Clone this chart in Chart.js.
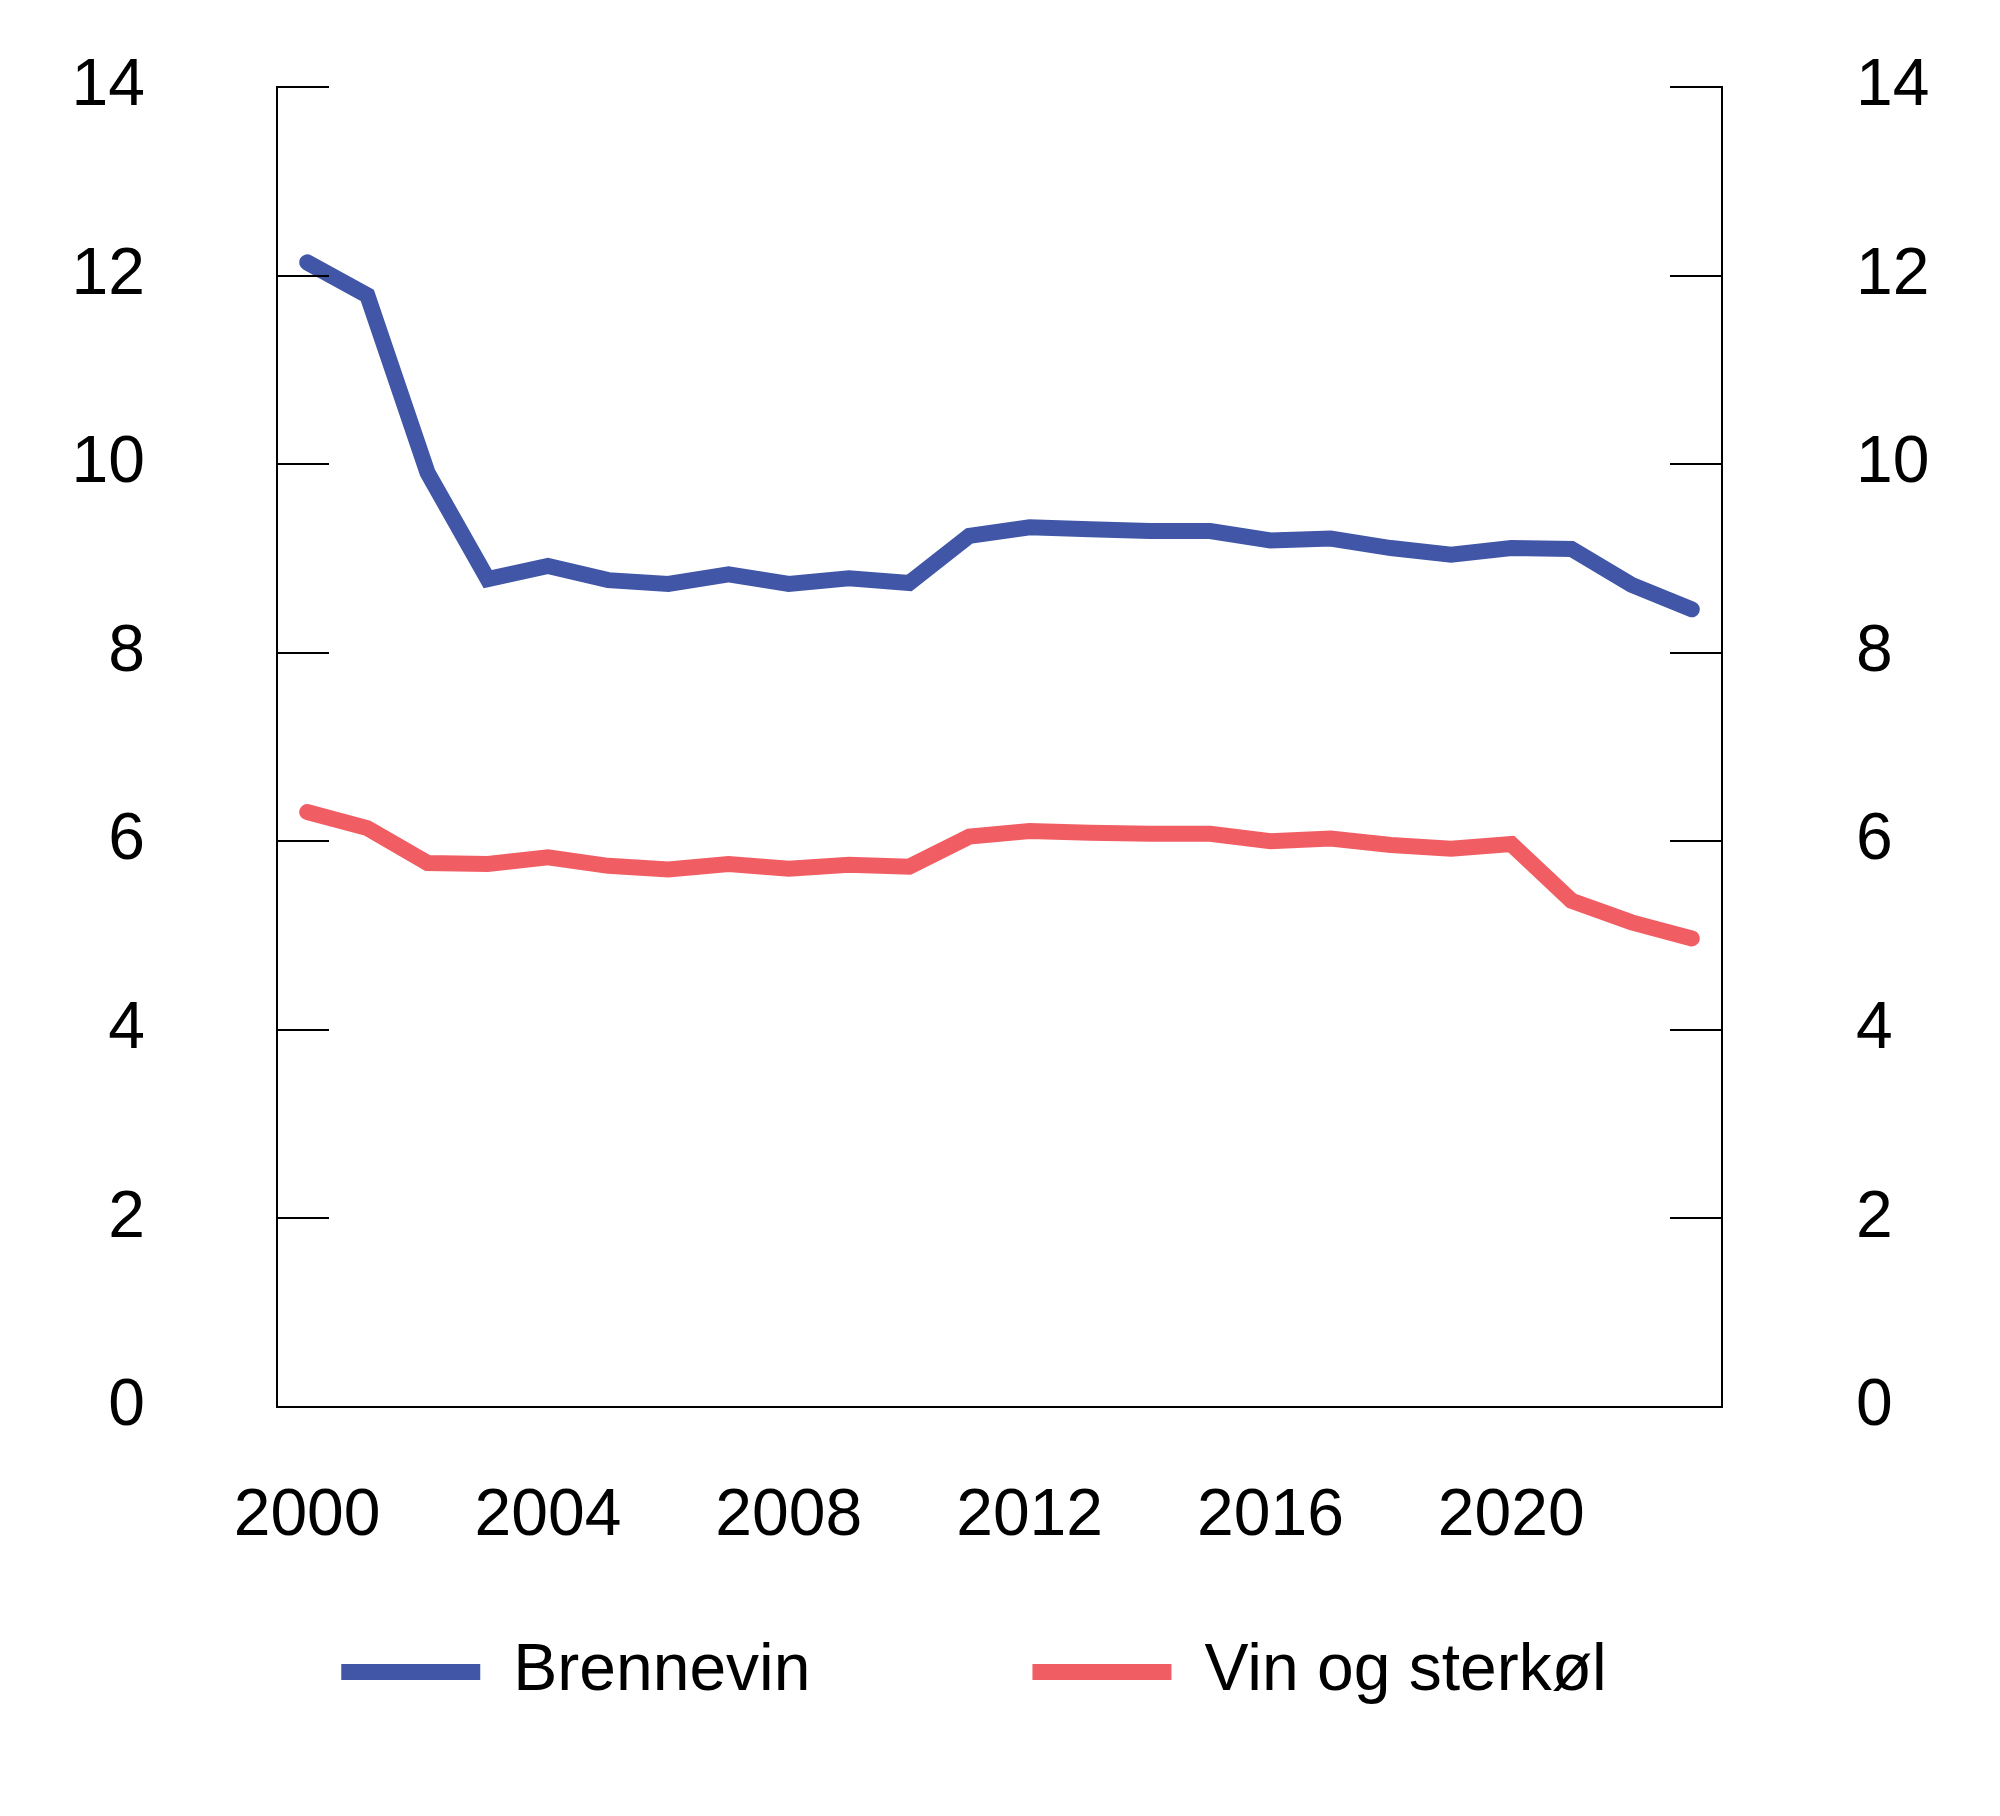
<!DOCTYPE html>
<html lang="no">
<head>
    <meta charset="UTF-8">
    <title>Brennevin og vin</title>
    <script src="https://cdn.jsdelivr.net/npm/chart.js"></script>
    <style>
        html, body { margin: 0; padding: 0; background: #fff; }
        #wrap { width: 2000px; height: 1816px; }
    </style>
</head>
<body>
    <div id="wrap"><canvas id="myChart"></canvas></div>
    <script>
        const years = ['2000','2001','2002','2003','2004','2005','2006','2007','2008','2009','2010','2011',
                       '2012','2013','2014','2015','2016','2017','2018','2019','2020','2021','2022','2023'];
        const xTickLabels = ['2000', '2004', '2008', '2012', '2016', '2020'];
        const brennevin = [12.14, 11.79, 9.91, 8.78, 8.92, 8.77, 8.73, 8.83, 8.73, 8.79, 8.74, 9.24,
                           9.33, 9.31, 9.29, 9.29, 9.19, 9.21, 9.11, 9.04, 9.11, 9.10, 8.72, 8.46];
        const vinOgSterkol = [6.31, 6.14, 5.77, 5.76, 5.83, 5.74, 5.70, 5.76, 5.71, 5.75, 5.73, 6.05,
                              6.11, 6.09, 6.08, 6.08, 6.00, 6.03, 5.96, 5.92, 5.97, 5.37, 5.14, 4.97];

        const FONT = '"Liberation Sans", Arial, Helvetica, sans-serif';
        const BLUE = '#4156a7';
        const RED = '#f05e64';

        const innerTicks = {
            id: 'innerTicks',
            afterLayout(chart) {
                // legend padding is wide for the gap between items; pull the row up
                const lg = chart.legend;
                if (lg) {
                    lg.top -= 150;
                    lg.height = lg.bottom - lg.top;
                }
            },
            // short tick marks pointing into the plot from both y axes
            afterDraw(chart) {
                const ctx = chart.ctx;
                const area = chart.chartArea;
                const ys = chart.scales.y;
                ctx.save();
                ctx.strokeStyle = '#000';
                ctx.lineWidth = 2;
                ys.ticks.forEach(t => {
                    const py = Math.round(ys.getPixelForValue(t.value));
                    ctx.beginPath();
                    ctx.moveTo(area.left, py);
                    ctx.lineTo(area.left + 52, py);
                    ctx.moveTo(area.right, py);
                    ctx.lineTo(area.right - 52, py);
                    ctx.stroke();
                });
                ctx.restore();
            }
        };

        function yFit(width) {
            return function (scale) {
                scale.width = width;
                scale.paddingTop = 0;
                scale.paddingBottom = 0;
            };
        }

        const ctx = document.getElementById('myChart').getContext('2d');
        new Chart(ctx, {
            type: 'line',
            data: {
                labels: years,
                datasets: [
                    {
                        label: 'Brennevin',
                        data: brennevin,
                        borderColor: BLUE,
                        backgroundColor: BLUE,
                        borderWidth: 16,
                        borderCapStyle: 'round',
                        pointRadius: 0,
                        tension: 0,
                        yAxisID: 'y'
                    },
                    {
                        label: 'Vin og sterkøl',
                        data: vinOgSterkol,
                        borderColor: RED,
                        backgroundColor: RED,
                        borderWidth: 16,
                        borderCapStyle: 'round',
                        pointRadius: 0,
                        tension: 0,
                        yAxisID: 'y'
                    }
                ]
            },
            options: {
                responsive: true,
                maintainAspectRatio: false,
                devicePixelRatio: 1,
                animation: false,
                layout: { padding: { top: 87, left: 0, right: 52, bottom: 0 } },
                plugins: {
                    tooltip: { enabled: false },
                    legend: {
                        position: 'bottom',
                        maxHeight: 249,
                        labels: {
                            boxWidth: 139,
                            boxHeight: 16,
                            padding: 222,
                            color: '#000',
                            font: { family: FONT, size: 66 },
                            generateLabels(chart) {
                                const items = Chart.defaults.plugins.legend.labels.generateLabels(chart);
                                items.forEach(it => { it.lineWidth = 0; });
                                return items;
                            }
                        }
                    }
                },
                scales: {
                    x: {
                        type: 'category',
                        offset: true,
                        grid: { display: false, drawTicks: false },
                        border: { display: true, color: '#000', width: 2 },
                        ticks: {
                            autoSkip: false,
                            maxRotation: 0,
                            padding: 70,
                            color: '#000',
                            font: { family: FONT, size: 66 },
                            callback(value) {
                                const lab = this.getLabelForValue(value);
                                return xTickLabels.includes(lab) ? lab : '';
                            }
                        },
                        afterFit(scale) { scale.height = 160; }
                    },
                    y: {
                        position: 'left',
                        min: 0,
                        max: 14,
                        grid: { display: false, drawTicks: false },
                        border: { display: true, color: '#000', width: 2 },
                        ticks: {
                            stepSize: 2,
                            padding: 132,
                            color: '#000',
                            font: { family: FONT, size: 66 }
                        },
                        afterFit: yFit(277)
                    },
                    y2: {
                        position: 'right',
                        display: true,
                        min: 0,
                        max: 14,
                        grid: { display: false, drawTicks: false },
                        border: { display: true, color: '#000', width: 2 },
                        ticks: {
                            stepSize: 2,
                            padding: 134,
                            color: '#000',
                            font: { family: FONT, size: 66 }
                        },
                        afterFit: yFit(226)
                    }
                }
            },
            plugins: [innerTicks]
        });
    </script>
</body>
</html>
